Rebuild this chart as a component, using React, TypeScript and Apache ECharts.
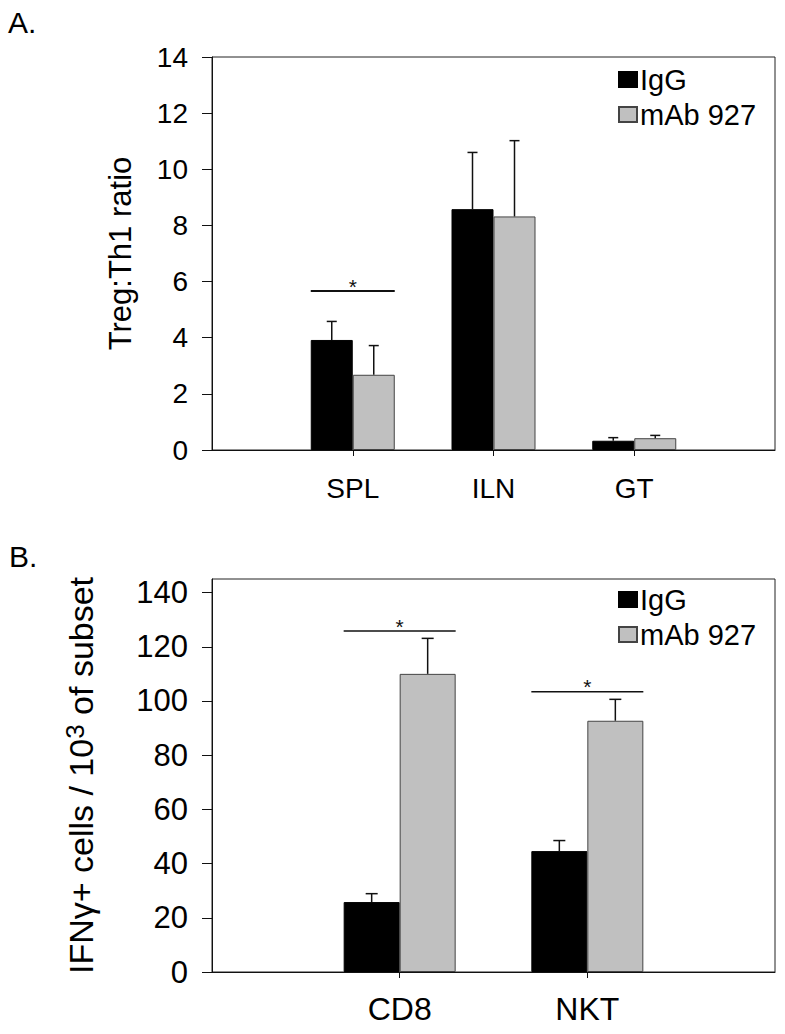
import React, { useEffect, useRef } from "react";
import * as echarts from "echarts";

// ---- Data ----
const catsA = ["SPL", "ILN", "GT"];
const iggA = [3.92, 8.58, 0.33];
const iggErrA = [0.66, 2.02, 0.11];
const mabA = [2.68, 8.32, 0.42];
const mabErrA = [1.04, 2.7, 0.1];
const sigA = [{ cat: "SPL", y: 5.66 }];
const ticksA = [0, 2, 4, 6, 8, 10, 12, 14];

const catsB = ["CD8", "NKT"];
const iggB = [25.8, 44.6];
const iggErrB = [3.1, 3.9];
const mabB = [110.0, 92.7];
const mabErrB = [13.1, 7.9];
const sigB = [
  { cat: "CD8", y: 125.8 },
  { cat: "NKT", y: 103.4 },
];
const ticksB = [0, 20, 40, 60, 80, 100, 120, 140];

const FONT = "'Liberation Sans', Arial, sans-serif";
const BLACK = "#000000";
const GRAY = "#c0c0c0";

export default function App() {
  const ref = useRef<HTMLDivElement>(null);

  useEffect(() => {
    if (!ref.current) return;
    const chart = echarts.init(ref.current, undefined, { renderer: "svg" });

    const xA = ["", ...catsA, ""];
    const xB = ["", ...catsB, ""];
    const pad = (arr: number[]) => [null, ...arr, null];

    const bwA = 42;
    const bwB = 56;

    const errRender = (offset: number, half: number) => (params: any, api: any) => {
      const x = api.value(0);
      const p0 = api.coord([x, api.value(1)]);
      const p1 = api.coord([x, api.value(2)]);
      const cx = p0[0] + offset;
      return {
        type: "group",
        children: [
          { type: "line", shape: { x1: cx, y1: p0[1], x2: cx, y2: p1[1] }, style: { stroke: "#111", lineWidth: 1.5 } },
          { type: "line", shape: { x1: cx - half, y1: p1[1], x2: cx + half, y2: p1[1] }, style: { stroke: "#111", lineWidth: 1.5 } },
        ],
      };
    };

    const sigRender = (w: number, lw: number) => (params: any, api: any) => {
      const p = api.coord([api.value(0), api.value(1)]);
      return {
        type: "group",
        children: [
          { type: "line", shape: { x1: p[0] - w, y1: p[1], x2: p[0] + w, y2: p[1] }, style: { stroke: "#111", lineWidth: lw } },
          {
            type: "text",
            x: p[0],
            y: p[1] - 5,
            style: { text: "*", fontSize: 21, fontFamily: FONT, fill: "#111", align: "center", verticalAlign: "middle" },
          },
        ],
      };
    };

    const catAxis = (data: string[], gridIndex: number, fontSize: number, margin: number) => ({
      type: "category",
      gridIndex,
      data,
      boundaryGap: false,
      axisLine: { show: true, lineStyle: { color: "#111", width: 1 } },
      axisTick: {
        show: true,
        length: 6,
        inside: false,
        interval: (i: number) => i > 0 && i < data.length - 1,
        lineStyle: { color: "#111" },
      },
      axisLabel: {
        show: true,
        interval: 0,
        fontSize,
        color: "#000",
        fontFamily: FONT,
        margin,
      },
      splitLine: { show: false },
    });

    const legendBase = {
      orient: "vertical",
      left: 618,
      padding: 0,
      itemWidth: 18,
      itemHeight: 15,
      itemGap: 6,
      icon: "rect",
      data: ["IgG", "mAb 927"],
      textStyle: { fontSize: 29, color: "#000", fontFamily: FONT, lineHeight: 28, padding: [0, 0, 0, -2] },
      selectedMode: false,
    };

    const option: any = {
      animation: false,
      textStyle: { fontFamily: FONT },
      graphic: [
        { type: "text", left: 8, top: 7, style: { text: "A.", font: `30px ${FONT}`, fill: "#000" } },
        { type: "text", left: 9, top: 541, style: { text: "B.", font: `30px ${FONT}`, fill: "#000" } },
      ],
      grid: [
        { left: 212, top: 57, right: 10, height: 393, show: true, borderColor: "#222", borderWidth: 1, backgroundColor: "transparent" },
        { left: 212, top: 579, right: 10, height: 393, show: true, borderColor: "#222", borderWidth: 1, backgroundColor: "transparent" },
      ],
      legend: [
        { ...legendBase, top: 65 },
        { ...legendBase, top: 585 },
      ],
      xAxis: [catAxis(xA, 0, 28, 24), catAxis(xB, 1, 32, 21)],
      yAxis: [
        {
          type: "value",
          gridIndex: 0,
          min: 0,
          max: 14,
          interval: 2,
          name: "Treg:Th1 ratio",
          nameLocation: "middle",
          nameRotate: 90,
          nameGap: 76,
          nameMoveOverlap: false,
          nameTextStyle: { fontSize: 31, color: "#000", fontFamily: FONT },
          axisLine: { show: true, lineStyle: { color: "#111" } },
          axisTick: { show: true, length: 10, lineStyle: { color: "#111" } },
          axisLabel: { fontSize: 28, color: "#000", fontFamily: FONT, margin: 24, customValues: ticksA },
          splitLine: { show: false },
        },
        {
          type: "value",
          gridIndex: 1,
          min: 0,
          max: 145,
          name: "{a|IFNγ+ cells / 10}{s|3}{a| of subset}",
          nameLocation: "middle",
          nameRotate: 90,
          nameGap: 112,
          nameMoveOverlap: false,
          nameTextStyle: {
            fontSize: 34,
            color: "#000",
            fontFamily: FONT,
            rich: {
              a: { fontSize: 34, color: "#000", fontFamily: FONT },
              s: { fontSize: 26, color: "#000", fontFamily: FONT, verticalAlign: "top", padding: [0, 0, 12, 0] },
            },
          },
          axisLine: { show: true, lineStyle: { color: "#111" } },
          axisTick: { show: true, length: 10, lineStyle: { color: "#111" }, customValues: ticksB },
          axisLabel: { fontSize: 31, color: "#000", fontFamily: FONT, margin: 24, customValues: ticksB },
          splitLine: { show: false },
        },
      ],
      series: [
        {
          name: "IgG",
          type: "bar",
          xAxisIndex: 0,
          yAxisIndex: 0,
          data: pad(iggA),
          barWidth: bwA,
          barGap: "0%",
          itemStyle: { color: BLACK, borderColor: "#000", borderWidth: 1 },
        },
        {
          name: "mAb 927",
          type: "bar",
          xAxisIndex: 0,
          yAxisIndex: 0,
          data: pad(mabA),
          barWidth: bwA,
          barGap: "0%",
          itemStyle: { color: GRAY, borderColor: "#444", borderWidth: 1 },
        },
        {
          name: "errA_igg",
          type: "custom",
          xAxisIndex: 0,
          yAxisIndex: 0,
          z: 5,
          renderItem: errRender(-bwA / 2, 5),
          data: catsA.map((c, i) => [i + 1, iggA[i], iggA[i] + iggErrA[i]]),
        },
        {
          name: "errA_mab",
          type: "custom",
          xAxisIndex: 0,
          yAxisIndex: 0,
          z: 5,
          renderItem: errRender(bwA / 2, 5),
          data: catsA.map((c, i) => [i + 1, mabA[i], mabA[i] + mabErrA[i]]),
        },
        {
          name: "sigA",
          type: "custom",
          xAxisIndex: 0,
          yAxisIndex: 0,
          z: 5,
          renderItem: sigRender(bwA, 2),
          data: sigA.map((s) => [xA.indexOf(s.cat), s.y]),
        },
        {
          name: "IgG",
          type: "bar",
          xAxisIndex: 1,
          yAxisIndex: 1,
          data: pad(iggB),
          barWidth: bwB,
          barGap: "0%",
          itemStyle: { color: BLACK, borderColor: "#000", borderWidth: 1 },
        },
        {
          name: "mAb 927",
          type: "bar",
          xAxisIndex: 1,
          yAxisIndex: 1,
          data: pad(mabB),
          barWidth: bwB,
          barGap: "0%",
          itemStyle: { color: GRAY, borderColor: "#444", borderWidth: 1 },
        },
        {
          name: "errB_igg",
          type: "custom",
          xAxisIndex: 1,
          yAxisIndex: 1,
          z: 5,
          renderItem: errRender(-bwB / 2, 6),
          data: catsB.map((c, i) => [i + 1, iggB[i], iggB[i] + iggErrB[i]]),
        },
        {
          name: "errB_mab",
          type: "custom",
          xAxisIndex: 1,
          yAxisIndex: 1,
          z: 5,
          renderItem: errRender(bwB / 2, 6),
          data: catsB.map((c, i) => [i + 1, mabB[i], mabB[i] + mabErrB[i]]),
        },
        {
          name: "sigB",
          type: "custom",
          xAxisIndex: 1,
          yAxisIndex: 1,
          z: 5,
          renderItem: sigRender(bwB, 1.5),
          data: sigB.map((s) => [xB.indexOf(s.cat), s.y]),
        },
      ],
    };

    chart.setOption(option);
    return () => chart.dispose();
  }, []);

  return (
    <div
      ref={ref}
      style={{ position: "absolute", left: 0, top: 0, width: 785, height: 1034, background: "#fff" }}
    />
  );
}
